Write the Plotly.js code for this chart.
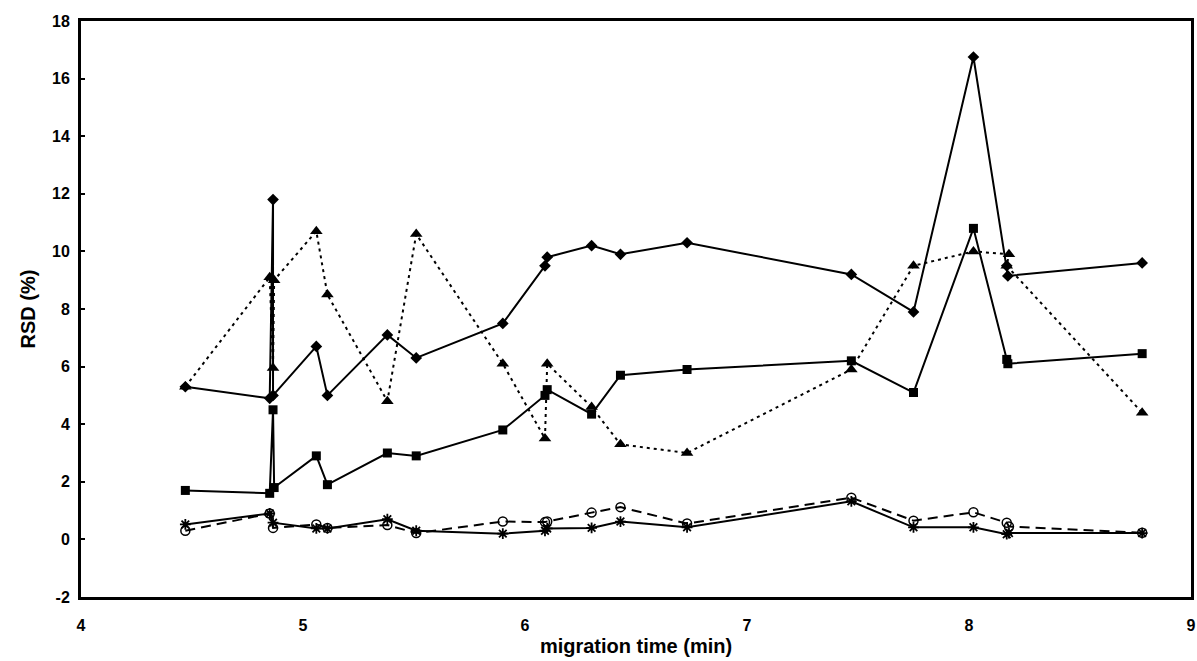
<!DOCTYPE html>
<html>
<head>
<meta charset="utf-8">
<script src="https://cdn.plot.ly/plotly-3.0.1.min.js"></script>
<style>
  html, body { margin: 0; padding: 0; background: #fff; }
  #chart { width: 1197px; height: 661px; }
</style>
</head>
<body>
<div id="chart"></div>
<script>
// Series (x = migration time in min, y = RSD %)
const diamondX = [4.47, 4.85, 4.865, 4.865, 5.06, 5.11, 5.38, 5.51, 5.90, 6.09, 6.10, 6.30, 6.43, 6.73, 7.47, 7.75, 8.02, 8.17, 8.175, 8.78];
const diamondY = [5.3, 4.9, 11.8, 5.0, 6.7, 5.0, 7.1, 6.3, 7.5, 9.5, 9.8, 10.2, 9.9, 10.3, 9.2, 7.9, 16.75, 9.5, 9.15, 9.6];

const squareX = [4.47, 4.85, 4.865, 4.87, 5.06, 5.11, 5.38, 5.51, 5.90, 6.09, 6.10, 6.30, 6.43, 6.73, 7.47, 7.75, 8.02, 8.17, 8.175, 8.78];
const squareY = [1.7, 1.6, 4.5, 1.8, 2.9, 1.9, 3.0, 2.9, 3.8, 5.0, 5.2, 4.35, 5.7, 5.9, 6.2, 5.1, 10.8, 6.25, 6.1, 6.45];

const triangleX = [4.47, 4.85, 4.865, 4.87, 5.06, 5.11, 5.38, 5.51, 5.90, 6.09, 6.10, 6.30, 6.43, 6.73, 7.47, 7.75, 8.02, 8.18, 8.17, 8.78];
const triangleY = [5.3, 9.1, 5.95, 9.0, 10.7, 8.5, 4.8, 10.6, 6.1, 3.5, 6.1, 4.6, 3.3, 3.0, 5.9, 9.5, 10.0, 9.9, 9.5, 4.4];

const circleX = [4.47, 4.85, 4.865, 5.06, 5.11, 5.38, 5.51, 5.90, 6.09, 6.10, 6.30, 6.43, 6.73, 7.47, 7.75, 8.02, 8.17, 8.18, 8.78];
const circleY = [0.3, 0.9, 0.4, 0.52, 0.4, 0.5, 0.22, 0.62, 0.6, 0.62, 0.93, 1.12, 0.55, 1.45, 0.65, 0.94, 0.58, 0.45, 0.23];

const asteriskX = [4.47, 4.85, 4.865, 5.06, 5.11, 5.38, 5.51, 5.90, 6.09, 6.10, 6.30, 6.43, 6.73, 7.47, 7.75, 8.02, 8.17, 8.18, 8.78];
const asteriskY = [0.52, 0.9, 0.58, 0.38, 0.38, 0.7, 0.3, 0.2, 0.3, 0.38, 0.4, 0.62, 0.42, 1.32, 0.42, 0.42, 0.18, 0.22, 0.22];

const xTicks = [4, 5, 6, 7, 8, 9];
const yTicks = [-2, 0, 2, 4, 6, 8, 10, 12, 14, 16, 18];

const black = '#000';
const traces = [
  { x: triangleX, y: triangleY, mode: 'lines+markers', name: 'triangle',
    line: { color: black, width: 2, dash: '3px,4px' },
    marker: { symbol: 'triangle-up', size: 11, color: black } },
  { x: circleX, y: circleY, mode: 'lines+markers', name: 'circle',
    line: { color: black, width: 2, dash: '10px,6px' },
    marker: { symbol: 'circle-open', size: 9, color: black, line: { width: 1.5, color: black } } },
  { x: asteriskX, y: asteriskY, mode: 'lines+markers', name: 'asterisk',
    line: { color: black, width: 2 },
    marker: { symbol: 'asterisk-open', size: 9, color: black, line: { width: 1.8, color: black } } },
  { x: squareX, y: squareY, mode: 'lines+markers', name: 'square',
    line: { color: black, width: 2 },
    marker: { symbol: 'square', size: 9, color: black } },
  { x: diamondX, y: diamondY, mode: 'lines+markers', name: 'diamond',
    line: { color: black, width: 2 },
    marker: { symbol: 'diamond', size: 9, color: black } }
];

const fontFam = '"Liberation Sans", Arial, sans-serif';
const layout = {
  width: 1197, height: 661,
  margin: { l: 81, r: 6, t: 21, b: 64 },
  paper_bgcolor: '#fff', plot_bgcolor: '#fff',
  showlegend: false,
  font: { family: fontFam, color: black },
  xaxis: {
    range: [4, 9], tickvals: xTicks, ticktext: xTicks.map(String),
    showgrid: false, zeroline: false,
    showline: true, linecolor: black, linewidth: 3, mirror: true,
    ticks: '', ticklabelstandoff: 12,
    tickfont: { family: fontFam, size: 16, color: black, weight: 'bold' },
    title: { text: 'migration time (min)', standoff: 6,
      font: { family: fontFam, size: 20, color: black, weight: 'bold' } }
  },
  yaxis: {
    range: [-2, 18], tickvals: yTicks, ticktext: yTicks.map(String),
    showgrid: false, zeroline: false,
    showline: true, linecolor: black, linewidth: 3, mirror: true,
    ticks: 'inside', ticklen: 4, tickwidth: 2, tickcolor: black,
    ticklabelstandoff: 5,
    tickfont: { family: fontFam, size: 16, color: black, weight: 'bold' },
    title: { text: 'RSD (%)', standoff: 12,
      font: { family: fontFam, size: 20, color: black, weight: 'bold' } }
  }
};

Plotly.newPlot('chart', traces, layout, { displayModeBar: false, staticPlot: true });
</script>
</body>
</html>
